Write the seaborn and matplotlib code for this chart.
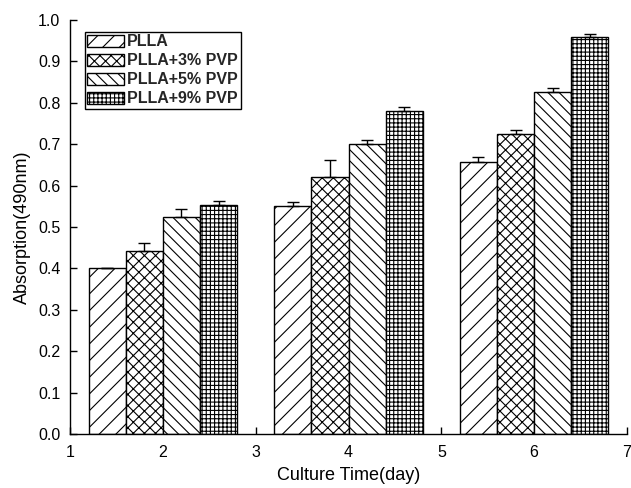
import numpy as np
import pandas as pd
import matplotlib
matplotlib.use("Agg")
import matplotlib.pyplot as plt
import seaborn as sns

days = [2, 4, 6]
groups = ["PLLA", "PLLA+3% PVP", "PLLA+5% PVP", "PLLA+9% PVP"]
pl = [0.400, 0.550, 0.658]
pl3 = [0.442, 0.621, 0.725]
pl5 = [0.523, 0.701, 0.826]
pl9 = [0.554, 0.781, 0.958]
err_pl = [0.0, 0.010, 0.010]
err_pl3 = [0.020, 0.040, 0.010]
err_pl5 = [0.020, 0.010, 0.010]
err_pl9 = [0.010, 0.010, 0.008]

values = [pl, pl3, pl5, pl9]
errs = [err_pl, err_pl3, err_pl5, err_pl9]
hatches = ["//", "xxx", "\\\\\\", "++++"]

rows = []
for g, v, e in zip(groups, values, errs):
    for d, vv, ee in zip(days, v, e):
        rows.append({"day": d, "group": g, "value": vv, "err": ee})
df = pd.DataFrame(rows)

sns.set_style("ticks")
plt.rcParams["font.family"] = ["Liberation Sans", "DejaVu Sans"]
plt.rcParams["hatch.linewidth"] = 0.8
plt.rcParams["hatch.color"] = "black"

fig = plt.figure(figsize=(6.31, 4.88), dpi=100)
ax = fig.add_axes([70/631, 1-434/488, (627-70)/631, (434-20)/488])

sns.barplot(data=df, x="day", y="value", hue="group", hue_order=groups,
            native_scale=True, width=0.8, errorbar=None,
            palette=["white"]*4, edgecolor="black", linewidth=1.0,
            ax=ax, legend=True)

containers = ax.containers
for cont, h, g in zip(containers, hatches, groups):
    sub = df[df["group"] == g]
    for patch in cont:
        patch.set_hatch(h)
        patch.set_facecolor("white")
        patch.set_edgecolor("black")
    xs = [p.get_x() + p.get_width()/2 for p in cont]
    ys = [p.get_height() for p in cont]
    e = sub["err"].values
    ax.errorbar(xs, ys, yerr=[np.zeros_like(e), e], fmt="none",
                ecolor="black", elinewidth=1.0, capsize=4, capthick=1.0, zorder=3)

ax.set_xlim(1, 7)
ax.set_ylim(0, 1.0)
ax.set_xticks([1, 2, 3, 4, 5, 6, 7])
ax.set_xticklabels(["1", "2", "3", "4", "5", "6", "7"])
ax.set_yticks(np.arange(0, 1.01, 0.1))
ax.set_yticklabels([f"{v:.1f}" for v in np.arange(0, 1.01, 0.1)])
ax.tick_params(direction="in", length=5, width=1, labelsize=11.5, color="black", labelcolor="black")
ax.tick_params(axis="y", pad=7)
ax.tick_params(axis="x", pad=8)
ax.set_xlabel("Culture Time(day)", fontsize=13, color="black", labelpad=5)
ax.set_ylabel("Absorption(490nm)", fontsize=13, color="black", labelpad=5)
for s in ["top", "right"]:
    ax.spines[s].set_visible(False)
for s in ["left", "bottom"]:
    ax.spines[s].set_color("black")
    ax.spines[s].set_linewidth(1.0)

handles, labels = ax.get_legend_handles_labels()
for hnd, h in zip(handles, hatches):
    hnd.set_hatch(h)
    hnd.set_facecolor("white")
    hnd.set_edgecolor("black")
leg = ax.legend(handles, labels, loc="upper left", bbox_to_anchor=(0.027, 0.971),
                frameon=True, fancybox=False, edgecolor="black", framealpha=1,
                prop={"weight": "bold", "size": 11.5}, handlelength=2.3,
                handleheight=0.8, labelspacing=0.25, borderpad=0.15,
                handletextpad=0.2, borderaxespad=0)
leg.get_frame().set_linewidth(1.0)

fig.savefig("out.png", dpi=100)
